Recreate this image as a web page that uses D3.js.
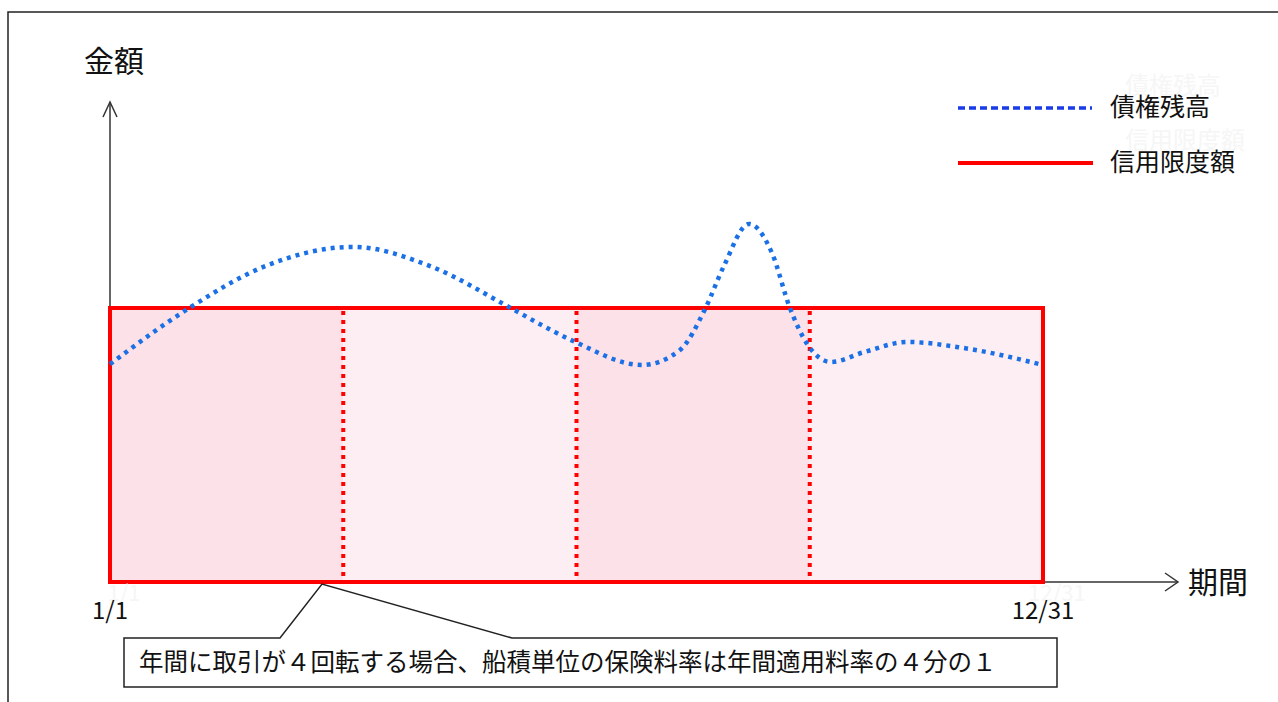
<!DOCTYPE html>
<html>
<head>
<meta charset="utf-8">
<script src="https://cdn.jsdelivr.net/npm/d3@7"></script>
<style>
  body { margin: 0; background: #fff; }
  svg { display: block; font-family: "Noto Sans CJK JP", "Noto Sans", sans-serif; }
</style>
</head>
<body>
<svg id="chart" width="1278" height="702"></svg>
<script>
// ==================== DATA ====================
const days = [0, 31, 60, 95, 126, 156, 171, 182, 208, 223, 233, 240, 250, 259, 266, 273, 282, 295, 312, 334, 365];
const balance = [79.5, 100, 115, 122.3, 115, 100.4, 92.7, 87.6, 79.2, 84.7, 100, 115, 130.7, 120, 100, 86.5, 80.3, 83.9, 87.6, 85.4, 79.2];
const creditLimit = 100;
const quarterStarts = [0, 91.25, 182.5, 273.75];
const quarterEnds = [91.25, 182.5, 273.75, 365];
const quarterFills = ['#fde1e9', '#fdeef3', '#fde1e9', '#fdeef3'];
const tickDays = [0, 365];
const tickLabels = ['1/1', '12/31'];
const legendLabels = ['債権残高', '信用限度額'];
const yTitle = '金額';
const xTitle = '期間';
const note = '年間に取引が４回転する場合、船積単位の保険料率は年間適用料率の４分の１';

// ==================== CHART ====================
const svg = d3.select('#chart');

const x = d3.scaleLinear().domain([0, 365]).range([110, 1043]);
const y = d3.scaleLinear().domain([0, creditLimit]).range([582, 308]);

const axisColor = '#333';
const red = '#ff0000';
const blue = '#1b70e6';

// page frame (top and left only)
svg.append('path')
  .attr('d', 'M8,702 L8,12 L1278,12')
  .attr('fill', 'none')
  .attr('stroke', '#222')
  .attr('stroke-width', 1.5);

// quarter fills
svg.append('g')
  .selectAll('rect')
  .data(quarterStarts)
  .join('rect')
  .attr('x', (d) => x(d))
  .attr('y', y(creditLimit))
  .attr('width', (d, i) => x(quarterEnds[i]) - x(d))
  .attr('height', y(0) - y(creditLimit))
  .attr('fill', (d, i) => quarterFills[i]);

// quarter dividers
svg.append('g')
  .selectAll('line')
  .data(quarterStarts.slice(1))
  .join('line')
  .attr('x1', (d) => x(d))
  .attr('x2', (d) => x(d))
  .attr('y1', y(creditLimit) + 3)
  .attr('y2', y(0))
  .attr('stroke', red)
  .attr('stroke-width', 4)
  .attr('stroke-dasharray', '4,5');

// axes with open arrowheads
const yTop = 102;
const xRight = 1178;
svg.append('line')
  .attr('x1', x(0)).attr('x2', x(0))
  .attr('y1', yTop).attr('y2', y(0))
  .attr('stroke', axisColor).attr('stroke-width', 1.5);
svg.append('path')
  .attr('d', `M${x(0) - 7},${yTop + 15} L${x(0)},${yTop} L${x(0) + 7},${yTop + 15}`)
  .attr('fill', 'none').attr('stroke', axisColor).attr('stroke-width', 1.5);
svg.append('line')
  .attr('x1', x(0)).attr('x2', xRight)
  .attr('y1', y(0)).attr('y2', y(0))
  .attr('stroke', axisColor).attr('stroke-width', 1.5);
svg.append('path')
  .attr('d', `M${xRight - 13},${y(0) - 9} L${xRight},${y(0)} L${xRight - 13},${y(0) + 9}`)
  .attr('fill', 'none').attr('stroke', axisColor).attr('stroke-width', 1.5);

// credit limit box
svg.append('rect')
  .attr('x', x(0))
  .attr('y', y(creditLimit))
  .attr('width', x(365) - x(0))
  .attr('height', y(0) - y(creditLimit))
  .attr('fill', 'none')
  .attr('stroke', red)
  .attr('stroke-width', 4);

// receivable balance curve
const line = d3.line()
  .x((d, i) => x(days[i]))
  .y((d) => y(d))
  .curve(d3.curveMonotoneX);

svg.append('path')
  .datum(balance)
  .attr('d', line)
  .attr('fill', 'none')
  .attr('stroke', blue)
  .attr('stroke-width', 4.5)
  .attr('stroke-dasharray', '4,5');

// axis titles
svg.append('text')
  .attr('x', 84).attr('y', 72)
  .attr('font-size', 30).attr('fill', '#111')
  .text(yTitle);
svg.append('text')
  .attr('x', 1188).attr('y', 593)
  .attr('font-size', 30).attr('fill', '#111')
  .text(xTitle);

// faint ghost tick labels (barely visible in the original)
svg.append('g')
  .selectAll('text')
  .data(tickDays)
  .join('text')
  .attr('x', (d) => x(d) + 14)
  .attr('y', 601)
  .attr('text-anchor', 'middle')
  .attr('font-size', 22)
  .attr('fill', '#f6f6f6')
  .text((d, i) => tickLabels[i]);

// tick labels
svg.append('g')
  .selectAll('text')
  .data(tickDays)
  .join('text')
  .attr('x', (d) => x(d))
  .attr('y', 619)
  .attr('text-anchor', 'middle')
  .attr('font-size', 24)
  .attr('fill', '#111')
  .text((d, i) => tickLabels[i]);

// legend
const legendY = [108, 163];
const legend = svg.append('g');
legend.append('line')
  .attr('x1', 958).attr('x2', 1092)
  .attr('y1', legendY[0]).attr('y2', legendY[0])
  .attr('stroke', '#1a3be6').attr('stroke-width', 3.5)
  .attr('stroke-dasharray', '7,4');
legend.append('line')
  .attr('x1', 958).attr('x2', 1093)
  .attr('y1', legendY[1]).attr('y2', legendY[1])
  .attr('stroke', red).attr('stroke-width', 4);
legend.selectAll('text.ghost')
  .data(legendLabels)
  .join('text')
  .attr('class', 'ghost')
  .attr('x', 1125)
  .attr('y', (d, i) => legendY[i] - 14)
  .attr('font-size', 24)
  .attr('fill', '#f6f6f6')
  .text((d) => d);
legend.selectAll('text.label')
  .data(legendLabels)
  .join('text')
  .attr('class', 'label')
  .attr('x', 1110)
  .attr('y', (d, i) => legendY[i] + 8)
  .attr('font-size', 25)
  .attr('fill', '#111')
  .text((d) => d);

// callout note
const tip = [322, 584];
svg.append('path')
  .attr('d', `M124,638 L280,638 L${tip[0]},${tip[1]} L512,638 L1057,638 L1057,687 L124,687 Z`)
  .attr('fill', '#fff')
  .attr('stroke', '#222')
  .attr('stroke-width', 1.5);
svg.append('text')
  .attr('x', 139).attr('y', 671)
  .attr('font-size', 24.5)
  .attr('fill', '#111')
  .text(note);
</script>
</body>
</html>
